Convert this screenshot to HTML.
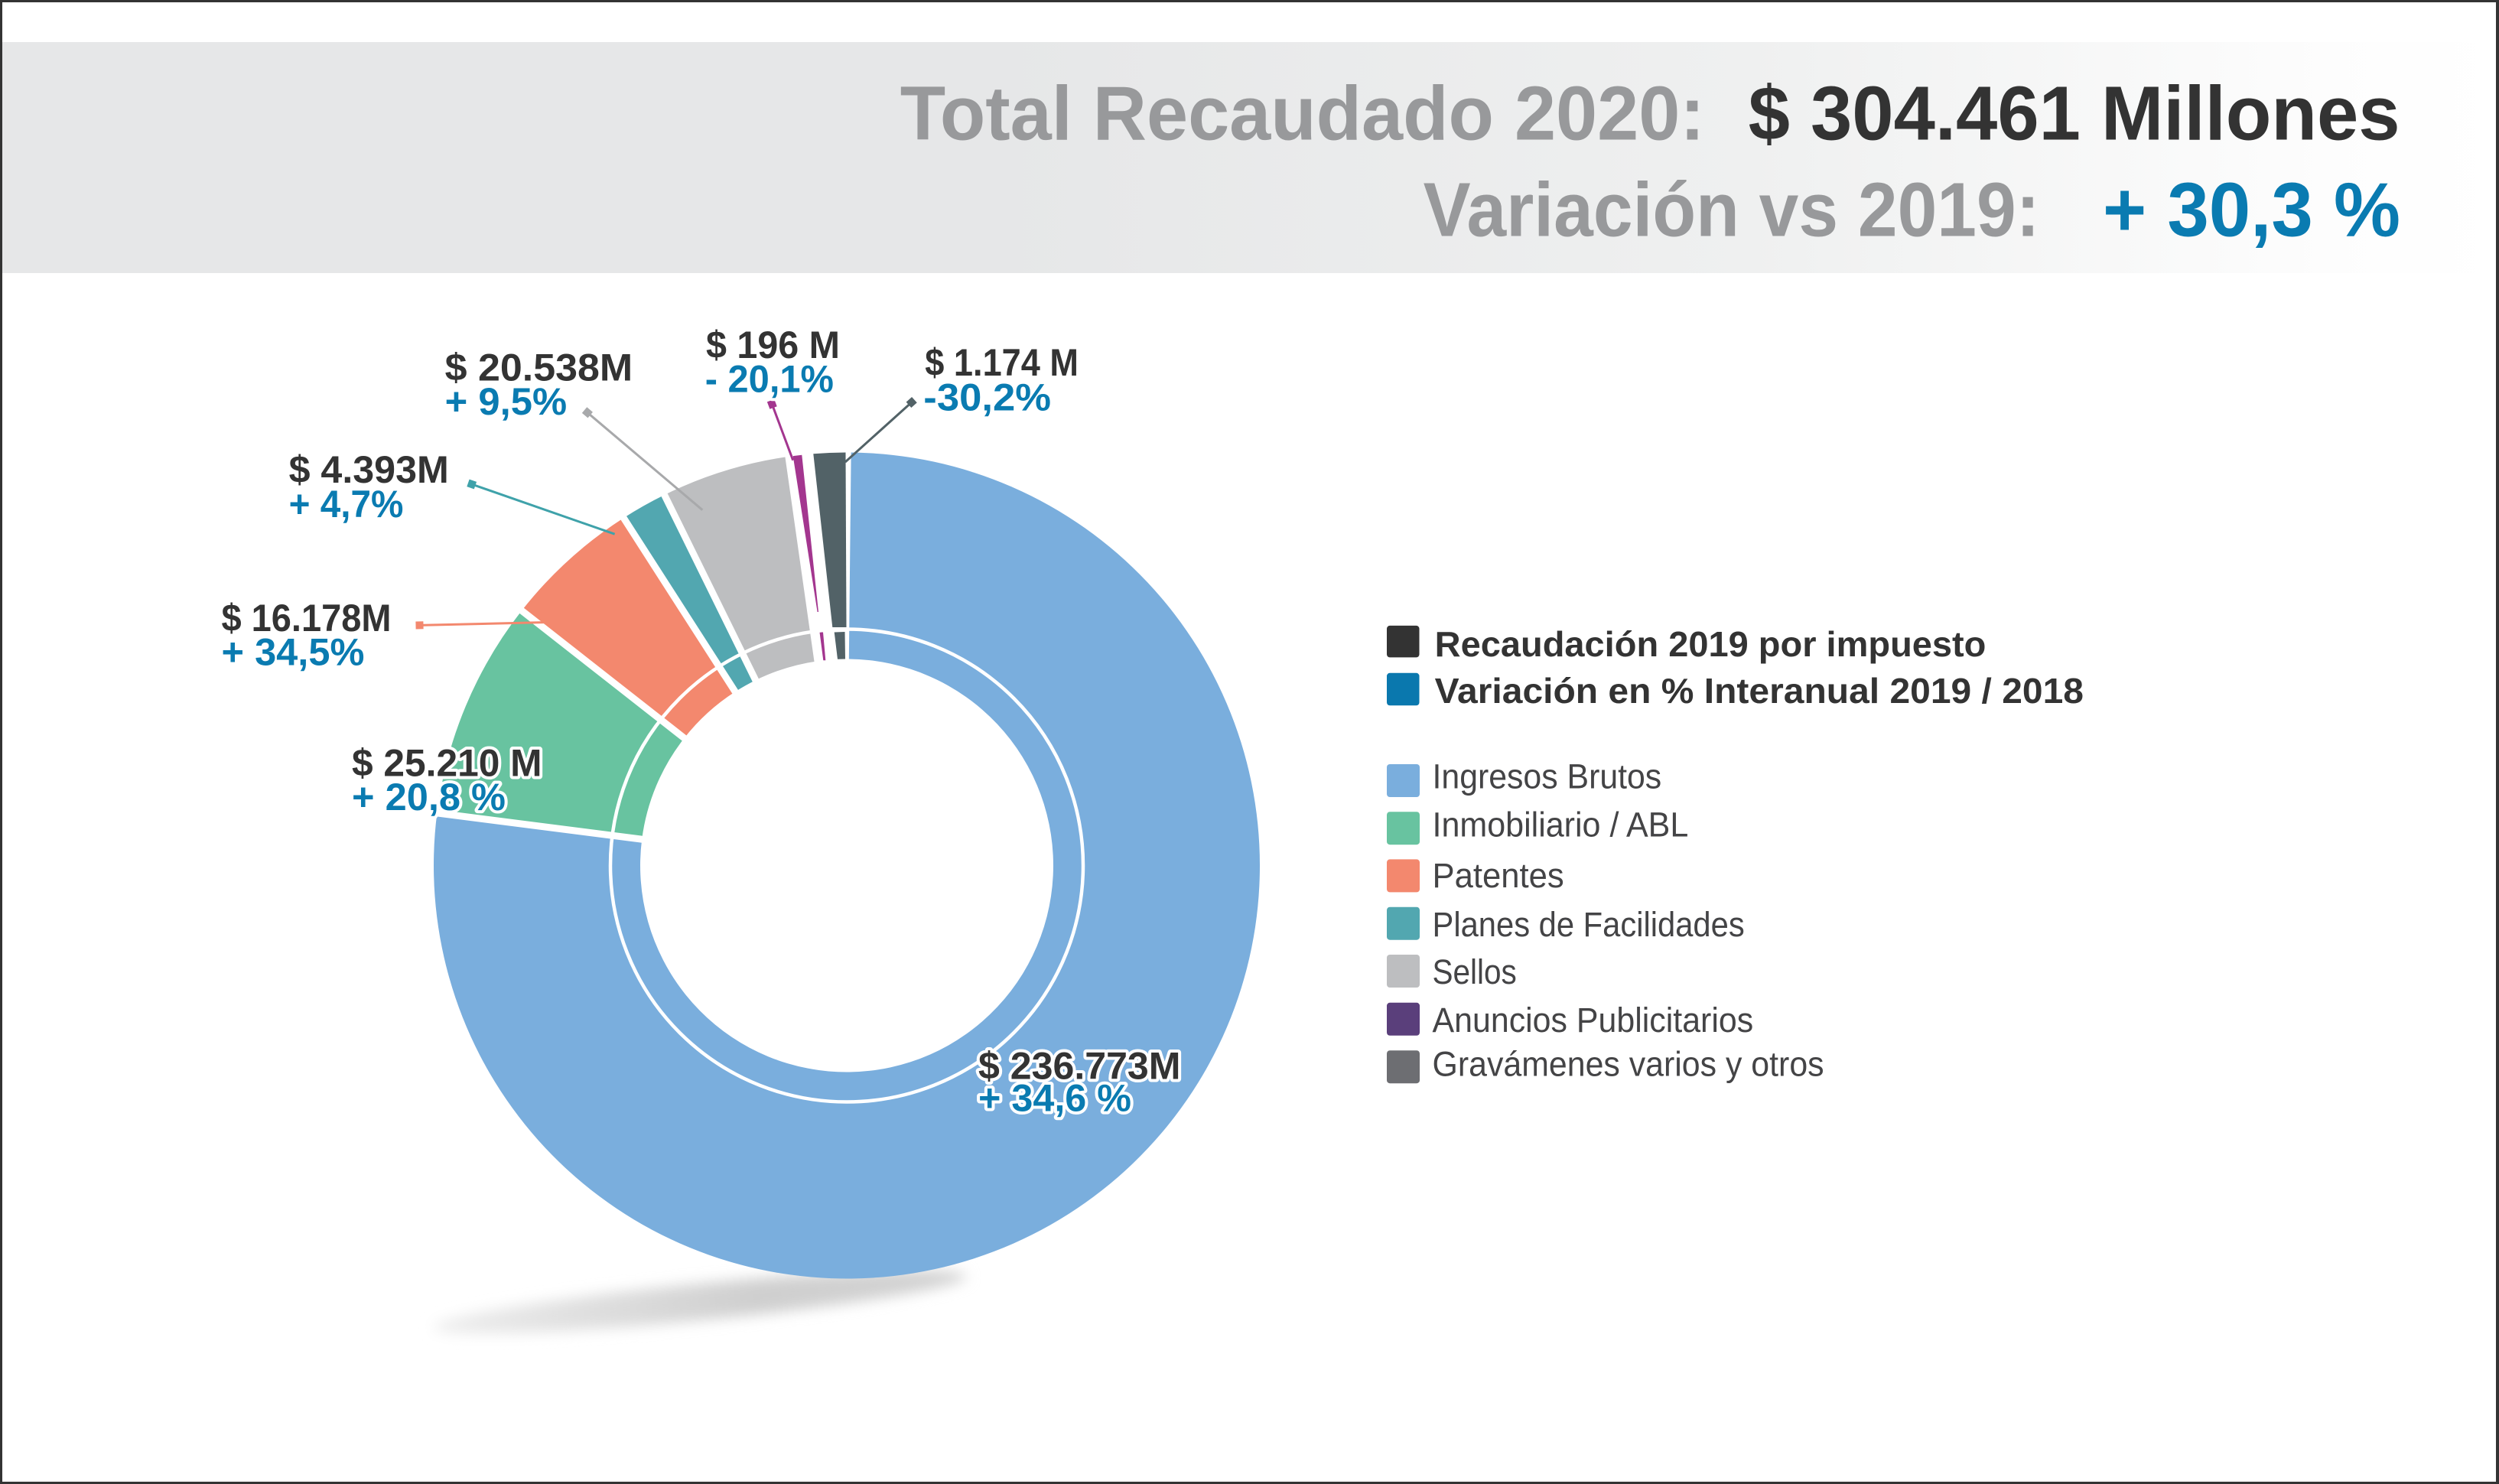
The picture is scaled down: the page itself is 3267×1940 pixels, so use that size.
<!DOCTYPE html>
<html>
<head>
<meta charset="utf-8">
<style>
  html,body{margin:0;padding:0;background:#fff;}
  svg{display:block;}
  text{font-family:"Liberation Sans", "DejaVu Sans", sans-serif;}
</style>
</head>
<body>
<svg width="3267" height="1940" viewBox="0 0 3267 1940" xmlns="http://www.w3.org/2000/svg">
  <defs>
    <linearGradient id="band" x1="0" y1="0" x2="3267" y2="0" gradientUnits="userSpaceOnUse">
      <stop offset="0" stop-color="#e6e7e8"/>
      <stop offset="0.40" stop-color="#e6e7e8"/>
      <stop offset="0.70" stop-color="#eff0f0"/>
      <stop offset="0.93" stop-color="#fdfdfd"/>
      <stop offset="1" stop-color="#ffffff"/>
    </linearGradient>
    <linearGradient id="shg" x1="560" y1="0" x2="1270" y2="0" gradientUnits="userSpaceOnUse">
      <stop offset="0" stop-color="#eeeeee"/>
      <stop offset="0.6" stop-color="#cfcfcf"/>
      <stop offset="1" stop-color="#d2d2d2"/>
    </linearGradient>
    <filter id="blur" x="-20%" y="-200%" width="140%" height="500%">
      <feGaussianBlur stdDeviation="9"/>
    </filter>
  </defs>

  <!-- background & frame -->
  <rect x="0" y="0" width="3267" height="1940" fill="#ffffff"/>
  <rect x="3" y="55" width="3260" height="302" fill="url(#band)"/>
  <rect x="0" y="0" width="3267" height="3" fill="#333333"/>
  <rect x="0" y="1937" width="3267" height="3" fill="#333333"/>
  <rect x="0" y="0" width="3" height="1940" fill="#333333"/>
  <rect x="3263" y="0" width="4" height="1940" fill="#333333"/>

  <!-- header -->
  <g font-size="100" font-weight="bold">
    <text x="1176.7" y="182.7" fill="#98999b" textLength="1052" lengthAdjust="spacingAndGlyphs">Total Recaudado 2020:</text>
    <text x="2285.6" y="182.7" fill="#333333" textLength="852" lengthAdjust="spacingAndGlyphs">$ 304.461 Millones</text>
    <text x="1860.6" y="308.3" fill="#98999b" textLength="806" lengthAdjust="spacingAndGlyphs">Variación vs 2019:</text>
    <text x="2749" y="308.3" fill="#0a7bb1" textLength="389" lengthAdjust="spacingAndGlyphs">+ 30,3 %</text>
  </g>

  <!-- shadow -->
  <ellipse cx="915" cy="1702" rx="350" ry="24" transform="rotate(-5.5 915 1702)" fill="url(#shg)" filter="url(#blur)"/>

  <!-- donut sectors -->
  <path d="M1112.65,591.53 A540,540 0 1 1 571.38,1062.88 L839.19,1097.19 A270,270 0 1 0 1109.83,861.51 Z" fill="#7aaedd"/>
  <path d="M571.38,1062.88 A540,540 0 0 1 682.06,798.30 L894.53,964.90 A270,270 0 0 0 839.19,1097.19 Z" fill="#68c3a0"/>
  <path d="M682.06,798.30 A540,540 0 0 1 815.27,677.08 L961.14,904.29 A270,270 0 0 0 894.53,964.90 Z" fill="#f3886e"/>
  <path d="M815.27,677.08 A540,540 0 0 1 868.59,646.98 L987.79,889.24 A270,270 0 0 0 961.14,904.29 Z" fill="#52a7b0"/>
  <path d="M868.59,646.98 A540,540 0 0 1 1030.91,596.89 L1068.96,864.19 A270,270 0 0 0 987.79,889.24 Z" fill="#bdbec0"/>

  <!-- white separators -->
  <g stroke="#ffffff" stroke-width="9" stroke-linecap="butt">
    <line x1="1107" y1="1131.5" x2="566.42" y2="1062.25"/>
    <line x1="1107" y1="1131.5" x2="678.12" y2="795.22"/>
    <line x1="1107" y1="1131.5" x2="812.57" y2="672.88"/>
    <line x1="1107" y1="1131.5" x2="866.38" y2="642.49"/>
    <line x1="1107" y1="1131.5" x2="1030.21" y2="591.94"/>
  </g>

  <!-- Gravámenes (custom wedge) -->
  <path d="M1063.3,593.3 A540,540 0 0 1 1105.5,591.5 L1106.5,820 L1088.3,820 Z" fill="#526267"/>
  <path d="M1090.7,826.5 L1104.5,826 L1105,861.5 L1095,861.7 Z" fill="#526267"/>
  <!-- Anuncios (thin wedge) -->
  <path d="M1036.7,596.1 L1048.3,594.8 L1070,800 L1068.6,800 Z" fill="#a3368f"/>
  <path d="M1071.5,826.5 L1076,826.5 L1079.3,863.3 L1076.3,863.3 Z" fill="#a3368f"/>

  <!-- white ring -->
  <circle cx="1107" cy="1131.5" r="309" fill="none" stroke="#ffffff" stroke-width="4.5"/>

  <!-- leader lines -->
  <g stroke-width="3" fill="none">
    <line x1="767.9" y1="539.3" x2="918.3" y2="666.7" stroke="#a8a9ab"/>
    <line x1="616.7" y1="633" x2="803.6" y2="698.2" stroke="#3fa2aa"/>
    <line x1="548.5" y1="817.4" x2="715" y2="813.5" stroke="#f3886e"/>
    <line x1="1009.3" y1="528.3" x2="1036.7" y2="601.7" stroke="#a3368f"/>
    <line x1="1191.7" y1="526" x2="1105" y2="604" stroke="#526267"/>
  </g>
  <rect x="-5" y="-5" width="10" height="10" fill="#a8a9ab" transform="translate(767.9 539.3) rotate(40.3)"/>
  <rect x="-5" y="-5" width="10" height="10" fill="#3fa2aa" transform="translate(616.7 633) rotate(19.2)"/>
  <rect x="-5" y="-5" width="10" height="10" fill="#f3886e" transform="translate(548.5 817.4) rotate(-1.3)"/>
  <rect x="-5" y="-5" width="10" height="10" fill="#a3368f" transform="translate(1009.3 528.3) rotate(69.5)"/>
  <rect x="-5" y="-5" width="10" height="10" fill="#526267" transform="translate(1191.7 526) rotate(138)"/>

  <!-- slice labels -->
  <g font-size="50" font-weight="bold" stroke="#ffffff" stroke-width="8" stroke-linejoin="round" paint-order="stroke">
    <text x="581.7" y="497.3" fill="#333333" textLength="245.5" lengthAdjust="spacingAndGlyphs">$ 20.538M</text>
    <text x="581.7" y="542" fill="#0a7bb1" textLength="159.4" lengthAdjust="spacingAndGlyphs">+ 9,5%</text>

    <text x="923" y="468" fill="#333333" textLength="175" lengthAdjust="spacingAndGlyphs">$ 196 M</text>
    <text x="921.7" y="512.7" fill="#0a7bb1" textLength="168.3" lengthAdjust="spacingAndGlyphs">- 20,1%</text>

    <text x="1209.3" y="491" fill="#333333" textLength="200.7" lengthAdjust="spacingAndGlyphs">$ 1.174 M</text>
    <text x="1207.3" y="536.7" fill="#0a7bb1" textLength="166.7" lengthAdjust="spacingAndGlyphs">-30,2%</text>

    <text x="377.6" y="631.2" fill="#333333" textLength="209.2" lengthAdjust="spacingAndGlyphs">$ 4.393M</text>
    <text x="377.6" y="675.9" fill="#0a7bb1" textLength="149.8" lengthAdjust="spacingAndGlyphs">+ 4,7%</text>

    <text x="289.5" y="825" fill="#333333" textLength="222" lengthAdjust="spacingAndGlyphs">$ 16.178M</text>
    <text x="289.5" y="869.6" fill="#0a7bb1" textLength="186.9" lengthAdjust="spacingAndGlyphs">+ 34,5%</text>

    <text x="460" y="1014.5" fill="#333333" textLength="248.5" lengthAdjust="spacingAndGlyphs">$ 25.210 M</text>
    <text x="460" y="1059" fill="#0a7bb1" textLength="201" lengthAdjust="spacingAndGlyphs">+ 20,8 %</text>

    <text x="1279" y="1410.4" fill="#333333" textLength="264.5" lengthAdjust="spacingAndGlyphs">$ 236.773M</text>
    <text x="1279" y="1452.4" fill="#0a7bb1" textLength="200" lengthAdjust="spacingAndGlyphs">+ 34,6 %</text>
  </g>

  <!-- legend -->
  <rect x="1813" y="817.9" width="42.5" height="41.5" rx="4" fill="#333333"/>
  <rect x="1813" y="879.8" width="42.5" height="42.5" rx="4" fill="#0a78ae"/>
  <g font-size="46" font-weight="bold" fill="#333333">
    <text x="1875.7" y="857.9" textLength="720.7" lengthAdjust="spacingAndGlyphs">Recaudación 2019 por impuesto</text>
    <text x="1875.7" y="918.9" textLength="848.3" lengthAdjust="spacingAndGlyphs">Variación en % Interanual 2019 / 2018</text>
  </g>

  <rect x="1813" y="999" width="43" height="43" rx="4" fill="#7aaedd"/>
  <rect x="1813" y="1061.2" width="43" height="43" rx="4" fill="#68c3a0"/>
  <rect x="1813" y="1123.4" width="43" height="43" rx="4" fill="#f3886e"/>
  <rect x="1813" y="1185.7" width="43" height="43" rx="4" fill="#52a7b0"/>
  <rect x="1813" y="1248" width="43" height="43" rx="4" fill="#bdbec0"/>
  <rect x="1813" y="1310.8" width="43" height="43" rx="4" fill="#5a3f7b"/>
  <rect x="1813" y="1373.2" width="43" height="43" rx="4" fill="#6d6e72"/>
  <g font-size="45" font-weight="normal" fill="#444446">
    <text x="1872.5" y="1030.7" textLength="299.7" lengthAdjust="spacingAndGlyphs">Ingresos Brutos</text>
    <text x="1872.5" y="1093.3" textLength="334.8" lengthAdjust="spacingAndGlyphs">Inmobiliario / ABL</text>
    <text x="1872.5" y="1160" textLength="172.2" lengthAdjust="spacingAndGlyphs">Patentes</text>
    <text x="1872.5" y="1224" textLength="408.2" lengthAdjust="spacingAndGlyphs">Planes de Facilidades</text>
    <text x="1872.5" y="1286" textLength="110.3" lengthAdjust="spacingAndGlyphs">Sellos</text>
    <text x="1872.5" y="1349" textLength="419.7" lengthAdjust="spacingAndGlyphs">Anuncios Publicitarios</text>
    <text x="1872.5" y="1406.7" textLength="512.1" lengthAdjust="spacingAndGlyphs">Gravámenes varios y otros</text>
  </g>
</svg>
</body>
</html>
